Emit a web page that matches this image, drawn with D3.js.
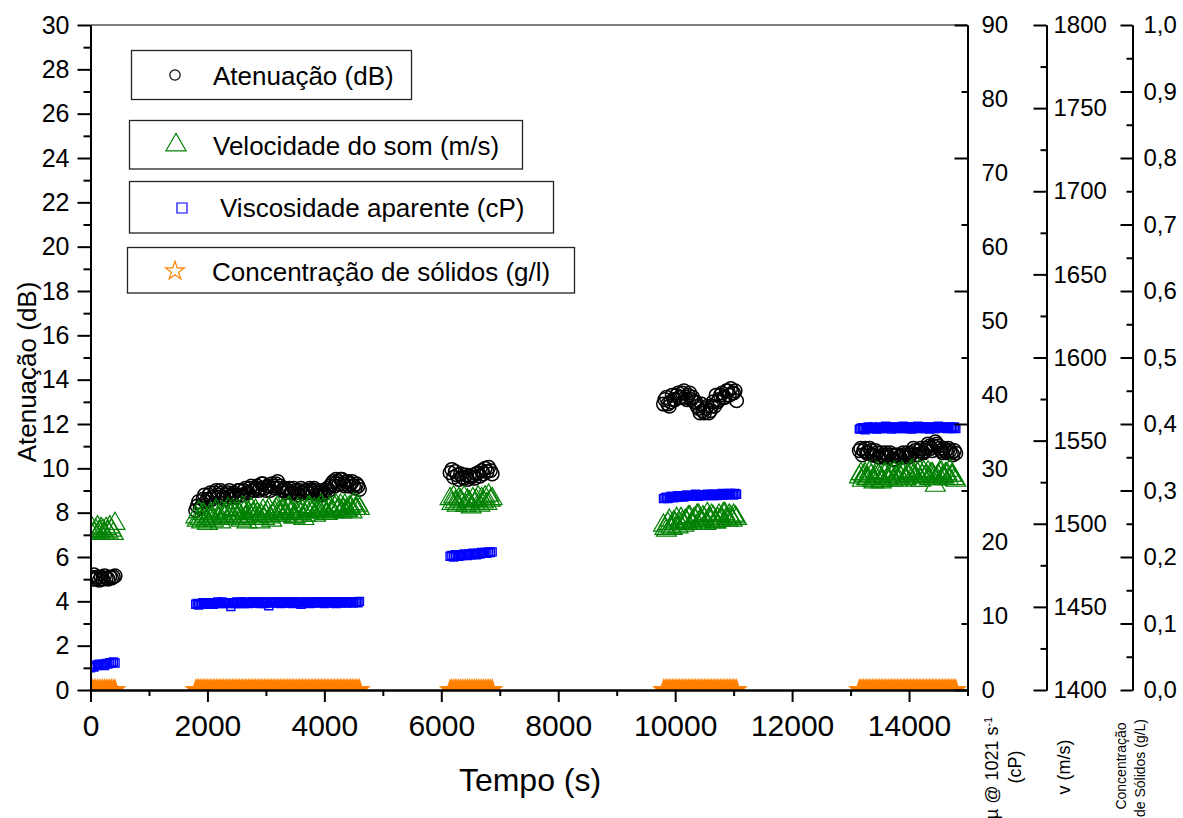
<!DOCTYPE html>
<html>
<head>
<meta charset="utf-8">
<script src="https://cdn.jsdelivr.net/npm/d3@7"></script>
<style>
  body { margin: 0; background: #fff; }
  svg { display: block; }
</style>
</head>
<body>
<div id="graph"></div>
<script>
// tempo (s) of each reading
const tempo = [
  0, 30, 60, 90, 120, 150, 180, 210, 240, 270, 300, 330, 360, 390, 420,
  1800, 1825, 1850, 1875, 1900, 1925, 1950, 1975, 2000, 2025,
  2050, 2075, 2100, 2125, 2150, 2175, 2200, 2225, 2250, 2275,
  2300, 2325, 2350, 2375, 2400, 2425, 2450, 2475, 2500, 2525,
  2550, 2575, 2600, 2625, 2650, 2675, 2700, 2725, 2750, 2775,
  2800, 2825, 2850, 2875, 2900, 2925, 2950, 2975, 3000, 3025,
  3050, 3075, 3100, 3125, 3150, 3175, 3200, 3225, 3250, 3275,
  3300, 3325, 3350, 3375, 3400, 3425, 3450, 3475, 3500, 3525,
  3550, 3575, 3600, 3625, 3650, 3675, 3700, 3725, 3750, 3775,
  3800, 3825, 3850, 3875, 3900, 3925, 3950, 3975, 4000, 4025,
  4050, 4075, 4100, 4125, 4150, 4175, 4200, 4225, 4250, 4275,
  4300, 4325, 4350, 4375, 4400, 4425, 4450, 4475, 4500, 4525,
  4550, 4575, 4600,
  6150, 6180, 6210, 6240, 6270, 6300, 6330, 6360, 6390, 6420,
  6450, 6480, 6510, 6540, 6570, 6600, 6630, 6660, 6690, 6720,
  6750, 6780, 6810, 6840, 6870,
  9800, 9825, 9850, 9875, 9900, 9925, 9950, 9975, 10000, 10025,
  10050, 10075, 10100, 10125, 10150, 10175, 10200, 10225, 10250, 10275,
  10300, 10325, 10350, 10375, 10400, 10425, 10450, 10475, 10500, 10525,
  10550, 10575, 10600, 10625, 10650, 10675, 10700, 10725, 10750, 10775,
  10800, 10825, 10850, 10875, 10900, 10925, 10950, 10975, 11000, 11025,
  11050,
  13150, 13175, 13200, 13225, 13250, 13275, 13300, 13325, 13350, 13375,
  13400, 13425, 13450, 13475, 13500, 13525, 13550, 13575, 13600, 13625,
  13650, 13675, 13700, 13725, 13750, 13775, 13800, 13825, 13850, 13875,
  13900, 13925, 13950, 13975, 14000, 14025, 14050, 14075, 14100, 14125,
  14150, 14175, 14200, 14225, 14250, 14275, 14300, 14325, 14350, 14375,
  14400, 14425, 14450, 14475, 14500, 14525, 14550, 14575, 14600, 14625,
  14650, 14675, 14700, 14725, 14750, 14775, 14800
];

// Atenuação (dB)
const atenuacao = [
  5.1, 5.0, 5.2, 5.0, 5.1, 4.95, 5.1, 5.0, 5.15, 5.05, 5.0, 5.1, 5.05, 5.1, 5.15,
  8.1, 8.3, 8.5, 8.2, 8.3, 8.6, 8.8, 8.5, 8.6, 8.8,
  8.9, 8.6, 8.7, 8.9, 9.0, 8.7, 8.8, 9.0, 8.9, 8.7,
  8.6, 8.8, 8.9, 9.0, 8.7, 8.8, 8.9, 8.7, 8.8, 9.0,
  9.0, 8.8, 8.8, 9.0, 9.1, 8.9, 8.9, 9.1, 9.2, 9.0,
  9.0, 9.1, 9.2, 9.0, 9.1, 9.3, 9.3, 9.1, 9.0, 9.2,
  9.2, 9.0, 9.3, 9.2, 9.1, 9.3, 9.4, 9.1, 9.2, 9.0,
  9.0, 9.1, 8.9, 9.0, 9.1, 8.9, 8.9, 9.1, 9.0, 8.9,
  8.8, 9.0, 9.1, 8.9, 8.9, 9.0, 9.0, 8.9, 9.1, 9.0,
  8.9, 9.1, 9.0, 8.9, 8.8, 8.9, 9.0, 8.8, 8.9, 9.0,
  9.1, 9.0, 9.2, 9.3, 9.4, 9.2, 9.5, 9.4, 9.3, 9.5,
  9.5, 9.3, 9.2, 9.4, 9.4, 9.2, 9.3, 9.4, 9.2, 9.1,
  9.3, 9.2, 9.05,
  9.8, 9.95, 9.6, 9.85, 9.7, 9.5, 9.75, 9.6, 9.55, 9.7,
  9.5, 9.65, 9.6, 9.7, 9.55, 9.75, 9.8, 9.65, 9.9, 9.75,
  10.0, 9.85, 10.05, 9.9, 9.75,
  12.9, 13.1, 13.2, 12.9, 12.8, 13.0, 13.3, 13.1, 13.1, 13.3,
  13.4, 13.2, 13.2, 13.4, 13.5, 13.2, 13.1, 13.3, 13.4, 13.1,
  13.2, 13.0, 13.0, 12.8, 12.7, 12.5, 12.9, 12.6, 12.5, 12.7,
  12.8, 12.5, 12.6, 12.8, 13.0, 12.8, 13.3, 13.0, 13.1, 13.3,
  13.4, 13.2, 13.2, 13.5, 13.5, 13.3, 13.6, 13.4, 13.4, 13.5,
  13.05,
  10.8, 10.9, 10.6, 10.8, 10.9, 10.7, 10.7, 10.9, 10.8, 10.6,
  10.6, 10.8, 10.7, 10.5, 10.5, 10.7, 10.6, 10.5, 10.7, 10.6,
  10.5, 10.7, 10.6, 10.4, 10.4, 10.6, 10.6, 10.5, 10.5, 10.6,
  10.7, 10.5, 10.6, 10.7, 10.5, 10.6, 10.7, 10.9, 10.8, 10.6,
  10.6, 10.8, 10.9, 10.7, 10.7, 10.8, 10.9, 11.1, 11.0, 10.9,
  10.8, 11.0, 11.2, 11.1, 11.0, 10.9, 10.8, 10.7, 10.9, 10.8,
  10.7, 10.9, 10.8, 10.7, 10.6, 10.8, 10.68
];

// Velocidade do som (m/s)
const velocidade = [
  1495, 1497, 1494, 1496, 1498, 1495, 1497, 1496, 1494, 1497, 1495, 1498, 1496, 1494, 1500,
  1504, 1502, 1507, 1503, 1501, 1506, 1505, 1502, 1500, 1504,
  1506, 1503, 1502, 1507, 1508, 1504, 1503, 1501, 1507, 1505,
  1504, 1506, 1509, 1503, 1505, 1508, 1503, 1506, 1508, 1504,
  1506, 1502, 1510, 1507, 1504, 1501, 1507, 1505, 1509, 1506,
  1503, 1508, 1506, 1504, 1501, 1505, 1508, 1503, 1505, 1507,
  1509, 1504, 1502, 1506, 1507, 1509, 1510, 1507, 1505, 1508,
  1508, 1505, 1506, 1509, 1510, 1507, 1507, 1504, 1504, 1506,
  1509, 1507, 1506, 1508, 1503, 1505, 1508, 1510, 1510, 1508,
  1507, 1509, 1505, 1508, 1509, 1507, 1511, 1509, 1508, 1506,
  1506, 1509, 1510, 1508, 1507, 1510, 1511, 1508, 1509, 1511,
  1507, 1509, 1511, 1508, 1508, 1510, 1510, 1507, 1512, 1509,
  1509, 1511, 1509,
  1515, 1512, 1516, 1513, 1511, 1515, 1514, 1512, 1516, 1511,
  1514, 1513, 1510, 1515, 1512, 1514, 1516, 1511, 1515, 1513,
  1516, 1512, 1517, 1514, 1515,
  1499, 1497, 1496, 1500, 1502, 1498, 1497, 1501, 1500, 1503,
  1498, 1500, 1503, 1501, 1499, 1502, 1501, 1504, 1504, 1500,
  1500, 1503, 1502, 1505, 1505, 1502, 1501, 1504, 1503, 1500,
  1506, 1503, 1502, 1505, 1504, 1501, 1501, 1503, 1505, 1502,
  1503, 1506, 1506, 1503, 1502, 1505, 1504, 1502, 1505, 1504,
  1503,
  1528, 1530, 1526, 1529, 1530, 1527, 1527, 1531, 1529, 1526,
  1525, 1528, 1531, 1529, 1528, 1525, 1526, 1530, 1530, 1527,
  1527, 1530, 1529, 1526, 1531, 1528, 1526, 1530, 1528, 1531,
  1530, 1527, 1527, 1529, 1529, 1531, 1532, 1529, 1528, 1526,
  1530, 1532, 1526, 1529, 1531, 1528, 1529, 1531, 1527, 1530,
  1530, 1528, 1523, 1527, 1529, 1531, 1531, 1528, 1528, 1530,
  1530, 1527, 1532, 1529, 1529, 1527, 1526
];

// Viscosidade aparente (cP)
const viscosidade = [
  3.0, 3.2, 3.1, 3.4, 3.3, 3.5, 3.4, 3.5, 3.3, 3.6, 3.5, 3.7, 3.6, 3.8, 3.65,
  11.6, 11.7, 11.5, 11.6, 11.7, 11.8, 11.6, 11.7, 11.8, 11.7,
  11.7, 11.8, 11.6, 11.7, 11.8, 11.9, 11.7, 11.8, 11.9, 11.8,
  11.7, 11.8, 11.8, 11.7, 11.3, 11.8, 11.8, 11.7, 11.9, 11.8,
  11.7, 11.9, 11.8, 11.7, 11.9, 11.8, 11.7, 11.8, 11.8, 11.9,
  11.9, 11.8, 11.8, 11.9, 11.7, 11.8, 11.9, 11.7, 11.8, 11.9,
  11.4, 11.8, 11.9, 11.8, 11.8, 11.9, 11.9, 11.8, 11.7, 11.8,
  11.8, 11.9, 11.9, 11.8, 11.8, 11.9, 11.7, 11.8, 11.9, 11.8,
  11.8, 11.9, 11.6, 11.8, 11.8, 11.9, 11.9, 11.8, 11.7, 11.8,
  11.8, 11.9, 11.9, 11.8, 11.8, 11.9, 11.9, 11.8, 11.7, 11.9,
  11.8, 11.9, 11.9, 11.8, 11.8, 11.9, 11.7, 11.8, 11.9, 11.8,
  11.8, 11.9, 11.9, 11.8, 11.8, 11.9, 11.9, 11.8, 11.8, 11.9,
  11.9, 11.8, 12.0,
  18.1, 18.2, 18.0, 18.3, 18.2, 18.1, 18.3, 18.2, 18.4, 18.3,
  18.2, 18.4, 18.3, 18.5, 18.4, 18.3, 18.5, 18.4, 18.6, 18.5,
  18.6, 18.5, 18.7, 18.6, 18.7,
  25.9, 26.0, 26.1, 25.9, 26.0, 26.2, 26.2, 26.0, 26.1, 26.2,
  26.3, 26.1, 26.2, 26.3, 26.1, 26.2, 26.4, 26.2, 26.2, 26.3,
  26.3, 26.2, 26.5, 26.3, 26.2, 26.4, 26.4, 26.3, 26.3, 26.4,
  26.5, 26.3, 26.4, 26.5, 26.3, 26.4, 26.5, 26.3, 26.4, 26.5,
  26.6, 26.4, 26.4, 26.5, 26.5, 26.6, 26.6, 26.5, 26.4, 26.6,
  26.5,
  35.3, 35.4, 35.5, 35.3, 35.2, 35.4, 35.6, 35.5, 35.4, 35.6,
  35.5, 35.4, 35.3, 35.5, 35.6, 35.4, 35.4, 35.5, 35.7, 35.5,
  35.5, 35.6, 35.3, 35.5, 35.6, 35.5, 35.4, 35.6, 35.5, 35.4,
  35.7, 35.5, 35.4, 35.6, 35.6, 35.4, 35.3, 35.5, 35.5, 35.6,
  35.7, 35.5, 35.4, 35.6, 35.6, 35.4, 35.5, 35.6, 35.3, 35.5,
  35.6, 35.4, 35.4, 35.6, 35.7, 35.5, 35.5, 35.6, 35.6, 35.5,
  35.4, 35.5, 35.6, 35.4, 35.5, 35.6, 35.4
];

// Concentração de sólidos (g/l)
const concentracao = [
  0, 0, 0, 0, 0, 0, 0, 0, 0, 0, 0, 0, 0, 0, 0,
  0, 0, 0, 0, 0, 0, 0, 0, 0, 0,
  0, 0, 0, 0, 0, 0, 0, 0, 0, 0,
  0, 0, 0, 0, 0, 0, 0, 0, 0, 0,
  0, 0, 0, 0, 0, 0, 0, 0, 0, 0,
  0, 0, 0, 0, 0, 0, 0, 0, 0, 0,
  0, 0, 0, 0, 0, 0, 0, 0, 0, 0,
  0, 0, 0, 0, 0, 0, 0, 0, 0, 0,
  0, 0, 0, 0, 0, 0, 0, 0, 0, 0,
  0, 0, 0, 0, 0, 0, 0, 0, 0, 0,
  0, 0, 0, 0, 0, 0, 0, 0, 0, 0,
  0, 0, 0, 0, 0, 0, 0, 0, 0, 0,
  0, 0, 0,
  0, 0, 0, 0, 0, 0, 0, 0, 0, 0,
  0, 0, 0, 0, 0, 0, 0, 0, 0, 0,
  0, 0, 0, 0, 0,
  0, 0, 0, 0, 0, 0, 0, 0, 0, 0,
  0, 0, 0, 0, 0, 0, 0, 0, 0, 0,
  0, 0, 0, 0, 0, 0, 0, 0, 0, 0,
  0, 0, 0, 0, 0, 0, 0, 0, 0, 0,
  0, 0, 0, 0, 0, 0, 0, 0, 0, 0,
  0,
  0, 0, 0, 0, 0, 0, 0, 0, 0, 0,
  0, 0, 0, 0, 0, 0, 0, 0, 0, 0,
  0, 0, 0, 0, 0, 0, 0, 0, 0, 0,
  0, 0, 0, 0, 0, 0, 0, 0, 0, 0,
  0, 0, 0, 0, 0, 0, 0, 0, 0, 0,
  0, 0, 0, 0, 0, 0, 0, 0, 0, 0,
  0, 0, 0, 0, 0, 0, 0
];

// ticks
const xTicks = [0, 2000, 4000, 6000, 8000, 10000, 12000, 14000];
const xMinor = [1000, 3000, 5000, 7000, 9000, 11000, 13000, 15000];
const yTicks = [0, 2, 4, 6, 8, 10, 12, 14, 16, 18, 20, 22, 24, 26, 28, 30];
const yMinor = [1, 3, 5, 7, 9, 11, 13, 15, 17, 19, 21, 23, 25, 27, 29];
const muLabels = [0, 10, 20, 30, 40, 50, 60, 70, 80, 90];
const muTicks = [0, 18, 36, 54, 72, 90];
const muMinor = [9, 27, 45, 63, 81];
const vTicks = [1400, 1450, 1500, 1550, 1600, 1650, 1700, 1750, 1800];
const vMinor = [1425, 1475, 1525, 1575, 1625, 1675, 1725, 1775];
const cTicks = [0, 0.1, 0.2, 0.3, 0.4, 0.5, 0.6, 0.7, 0.8, 0.9, 1.0];
const cMinor = [0.05, 0.15, 0.25, 0.35, 0.45, 0.55, 0.65, 0.75, 0.85, 0.95];

const legendItems = [
  'Atenuação (dB)',
  'Velocidade do som (m/s)',
  'Viscosidade aparente (cP)',
  'Concentração de sólidos (g/l)'
];

const W = 1183, H = 818;
const plot = { left: 90.5, right: 967.5, top: 25, bottom: 690 };
const font = "'Liberation Sans', Arial, sans-serif";

const xScale = d3.scaleLinear().domain([0, 15000]).range([plot.left, plot.right]);
const yScale = d3.scaleLinear().domain([0, 30]).range([plot.bottom, plot.top]);
const muScale = d3.scaleLinear().domain([0, 90]).range([plot.bottom, plot.top]);
const vScale = d3.scaleLinear().domain([1400, 1800]).range([plot.bottom, plot.top]);
const cScale = d3.scaleLinear().domain([0, 1]).range([plot.bottom, plot.top]);

const svg = d3.select('#graph').append('svg')
  .attr('width', W).attr('height', H)
  .style('background', '#fff');

svg.append('clipPath').attr('id', 'plotclip')
  .append('rect')
  .attr('x', plot.left).attr('y', plot.top)
  .attr('width', plot.right - plot.left).attr('height', plot.bottom - plot.top);

const rows = tempo.map((t, i) => ({
  t: t,
  aten: atenuacao[i],
  vel: velocidade[i],
  visc: viscosidade[i],
  conc: concentracao[i]
}));

const vis = svg.append('g').attr('clip-path', 'url(#plotclip)');

// Atenuação
vis.append('g').selectAll('circle')
  .data(rows).join('circle')
  .attr('cx', (d) => xScale(d.t))
  .attr('cy', (d) => yScale(d.aten))
  .attr('r', 6.8)
  .attr('fill', 'none')
  .attr('stroke', '#000')
  .attr('stroke-width', 1.5);

// Velocidade
const triangle = d3.symbol().type(d3.symbolTriangle).size(170);
vis.append('g').selectAll('path')
  .data(rows).join('path')
  .attr('d', triangle)
  .attr('transform', (d) => 'translate(' + xScale(d.t) + ',' + vScale(d.vel) + ')')
  .attr('fill', 'none')
  .attr('stroke', '#008000')
  .attr('stroke-width', 1.2);

// Viscosidade
const square = d3.symbol().type(d3.symbolSquare).size(64);
vis.append('g').selectAll('path')
  .data(rows).join('path')
  .attr('d', square)
  .attr('transform', (d) => 'translate(' + xScale(d.t) + ',' + muScale(d.visc) + ')')
  .attr('fill', 'none')
  .attr('stroke', '#0000ff')
  .attr('stroke-width', 1.4);

// Concentração
const star = d3.symbol().type(d3.symbolStar).size(82);
vis.append('g').selectAll('path')
  .data(rows).join('path')
  .attr('d', star)
  .attr('transform', (d) => 'translate(' + xScale(d.t) + ',' + cScale(d.conc) + ')')
  .attr('fill', 'none')
  .attr('stroke', '#ff8000')
  .attr('stroke-width', 2.2);

// frame top line
svg.append('line')
  .attr('x1', plot.left).attr('x2', plot.right)
  .attr('y1', plot.top).attr('y2', plot.top)
  .attr('stroke', '#000').attr('stroke-width', 1.2);

function styleAxis(g, size) {
  g.attr('font-size', size).attr('font-family', font);
  g.selectAll('path, line').attr('stroke', '#000').attr('stroke-width', 2);
  g.selectAll('text').attr('fill', '#000');
  return g;
}

// bottom axis
styleAxis(svg.append('g')
  .attr('transform', 'translate(0,' + plot.bottom + ')')
  .call(d3.axisBottom(xScale).tickValues(xTicks).tickSize(12).tickSizeOuter(0)
    .tickPadding(13).tickFormat((x) => `${x.toFixed(0)}`)), 30);
styleAxis(svg.append('g')
  .attr('transform', 'translate(0,' + plot.bottom + ')')
  .call(d3.axisBottom(xScale).tickValues(xMinor).tickSize(6).tickSizeOuter(0).tickFormat('')), 30);

// left axis
styleAxis(svg.append('g')
  .attr('transform', 'translate(' + plot.left + ',0)')
  .call(d3.axisLeft(yScale).tickValues(yTicks).tickSize(13).tickSizeOuter(0).tickPadding(8)), 25);
styleAxis(svg.append('g')
  .attr('transform', 'translate(' + plot.left + ',0)')
  .call(d3.axisLeft(yScale).tickValues(yMinor).tickSize(7).tickSizeOuter(0).tickFormat('')), 25);

// right axes: ticks point inward, labels to the right
function rightAxis(x, scale, major, minor, labels, fmt, pad, majorLen) {
  styleAxis(svg.append('g')
    .attr('transform', 'translate(' + x + ',0)')
    .call(d3.axisLeft(scale).tickValues(major).tickSize(majorLen).tickSizeOuter(0).tickFormat('')), 24);
  styleAxis(svg.append('g')
    .attr('transform', 'translate(' + x + ',0)')
    .call(d3.axisLeft(scale).tickValues(minor).tickSize(6).tickSizeOuter(0).tickFormat('')), 24);
  const lab = styleAxis(svg.append('g')
    .attr('transform', 'translate(' + x + ',0)')
    .call(d3.axisRight(scale).tickValues(labels).tickSize(0).tickPadding(pad).tickFormat(fmt)), 24);
  lab.select('.domain').remove();
}

rightAxis(plot.right, muScale, muTicks, muMinor, muLabels, (d) => d, 14, 13);
rightAxis(1046.5, vScale, vTicks, vMinor, vTicks, (d) => d, 7, 13);
rightAxis(1132.5, cScale, cTicks, cMinor, cTicks, (d) => d.toFixed(1).replace('.', ','), 11, 12);

// axis titles
svg.append('text')
  .attr('x', 530).attr('y', 791)
  .attr('text-anchor', 'middle')
  .attr('font-family', font).attr('font-size', 32)
  .text('Tempo (s)');

svg.append('text')
  .attr('transform', 'translate(36,372) rotate(-90)')
  .attr('text-anchor', 'middle')
  .attr('font-family', font).attr('font-size', 26)
  .text('Atenuação (dB)');

const muTitle = svg.append('text')
  .attr('transform', 'translate(998,768) rotate(-90)')
  .attr('text-anchor', 'middle')
  .attr('font-family', font).attr('font-size', 18);
muTitle.append('tspan').text('µ @ 1021 s');
muTitle.append('tspan').attr('dy', '-0.55em').attr('font-size', 11).text('-1');

svg.append('text')
  .attr('transform', 'translate(1021,767) rotate(-90)')
  .attr('text-anchor', 'middle')
  .attr('font-family', font).attr('font-size', 18)
  .text('(cP)');

svg.append('text')
  .attr('transform', 'translate(1070,767) rotate(-90)')
  .attr('text-anchor', 'middle')
  .attr('font-family', font).attr('font-size', 18)
  .text('v (m/s)');

svg.append('text')
  .attr('transform', 'translate(1126,766) rotate(-90)')
  .attr('text-anchor', 'middle')
  .attr('font-family', font).attr('font-size', 14)
  .text('Concentração');

svg.append('text')
  .attr('transform', 'translate(1145,768) rotate(-90)')
  .attr('text-anchor', 'middle')
  .attr('font-family', font).attr('font-size', 14)
  .text('de Sólidos (g/L)');

// legend boxes
const boxes = [
  { x: 131.5, y: 50.5, w: 280, h: 49, sx: 175, sy: 75, tx: 213, ty: 85 },
  { x: 129.5, y: 120.5, w: 393, h: 48.5, sx: 176, sy: 145, tx: 213, ty: 155 },
  { x: 129.5, y: 181.5, w: 424, h: 51.5, sx: 182, sy: 208, tx: 220, ty: 217 },
  { x: 127.5, y: 247.5, w: 447, h: 45.5, sx: 175, sy: 271, tx: 212, ty: 281 }
];
const legend = svg.append('g');
boxes.forEach((b, i) => {
  legend.append('rect')
    .attr('x', b.x).attr('y', b.y).attr('width', b.w).attr('height', b.h)
    .attr('fill', '#fff').attr('stroke', '#222').attr('stroke-width', 1.3);
  legend.append('text')
    .attr('x', b.tx).attr('y', b.ty)
    .attr('font-family', font).attr('font-size', 26)
    .text(legendItems[i]);
});
legend.append('circle')
  .attr('cx', boxes[0].sx).attr('cy', boxes[0].sy).attr('r', 5.2)
  .attr('fill', 'none').attr('stroke', '#000').attr('stroke-width', 1.2);
legend.append('path')
  .attr('d', d3.symbol().type(d3.symbolTriangle).size(175))
  .attr('transform', 'translate(' + boxes[1].sx + ',' + boxes[1].sy + ')')
  .attr('fill', 'none').attr('stroke', '#008000').attr('stroke-width', 1.2);
legend.append('path')
  .attr('d', d3.symbol().type(d3.symbolSquare).size(100))
  .attr('transform', 'translate(' + boxes[2].sx + ',' + boxes[2].sy + ')')
  .attr('fill', 'none').attr('stroke', '#0000ff').attr('stroke-width', 1.2);
legend.append('path')
  .attr('d', d3.symbol().type(d3.symbolStar).size(110))
  .attr('transform', 'translate(' + boxes[3].sx + ',' + boxes[3].sy + ')')
  .attr('fill', 'none').attr('stroke', '#ff8000').attr('stroke-width', 1.2);
</script>
</body>
</html>
